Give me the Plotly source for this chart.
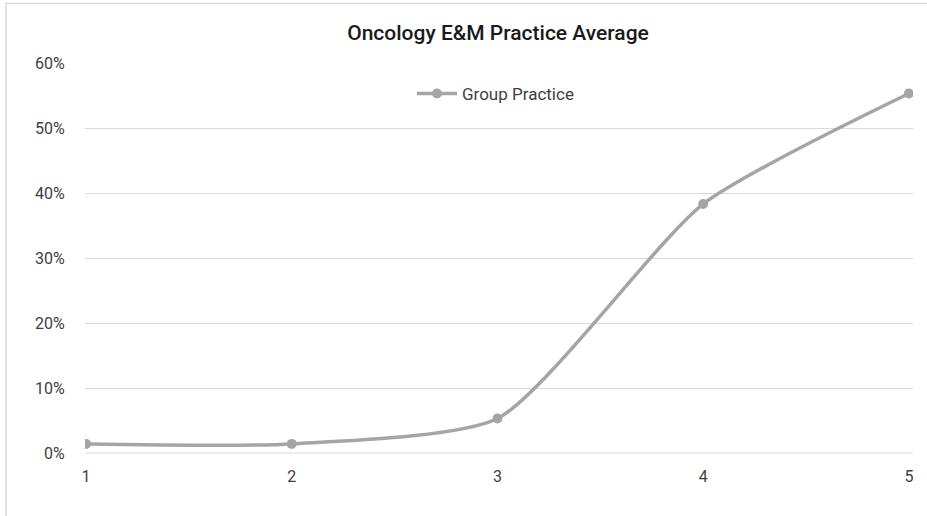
import plotly.graph_objects as go

categories = [1, 2, 3, 4, 5]
group_practice = [0.014, 0.014, 0.053, 0.383, 0.553]
y_ticks = [0, 0.1, 0.2, 0.3, 0.4, 0.5, 0.6]
y_tick_labels = ["0%", "10%", "20%", "30%", "40%", "50%", "60%"]

FONT = "Roboto, Liberation Sans, sans-serif"

fig = go.Figure()
fig.add_trace(go.Scatter(
    x=categories, y=group_practice, name="Group Practice",
    mode="lines+markers",
    line=dict(color="#A5A5A5", width=3.5, shape="spline", smoothing=0.6),
    marker=dict(color="#A5A5A5", size=10),
))

W, H = 927, 516
l, r, t, b = 85, 14, 63, 63
pw, ph = W - l - r, H - t - b

fig.update_layout(
    width=W, height=H,
    margin=dict(l=l, r=r, t=t, b=b, autoexpand=False),
    paper_bgcolor="white", plot_bgcolor="white",
    font=dict(family=FONT, color="#404040", size=16),
    title=dict(text="Oncology E&M Practice Average", x=(498 - l) / pw, xref="paper",
               xanchor="center", y=1 - 33 / H, yanchor="middle",
               font=dict(family=FONT, size=21, color="#1a1a1a", weight=500)),
    showlegend=True,
    legend=dict(x=(412 - l) / pw, xanchor="left", y=(453 - 94) / ph, yanchor="middle",
                orientation="h", bgcolor="rgba(0,0,0,0)", itemwidth=40,
                font=dict(family=FONT, size=17, color="#404040")),
    xaxis=dict(range=[0.995, 5.02], tickvals=categories,
               ticktext=[str(c) for c in categories], automargin=False,
               showgrid=False, zeroline=False, showline=False,
               ticks="outside", ticklen=9, tickcolor="rgba(0,0,0,0)"),
    yaxis=dict(range=[0, 0.6], tickvals=y_ticks, ticktext=y_tick_labels,
               automargin=False,
               showgrid=True, gridcolor="#D9D9D9", gridwidth=1,
               zeroline=False, showline=False,
               ticks="outside", ticklen=16, tickcolor="rgba(0,0,0,0)"),
    shapes=[dict(type="line", xref="paper", yref="paper", x0=0, x1=1, y0=0, y1=0,
                 line=dict(color="#D9D9D9", width=1), layer="below"),
            dict(type="rect", xref="paper", yref="paper",
                 x0=(6 - l) / pw, x1=1.2, y0=-0.3, y1=(H - b - 3.5) / ph,
                 line=dict(color="#D9D9D9", width=1.5), fillcolor="rgba(0,0,0,0)")],
)

fig.write_html("out.html", config={"displayModeBar": False},
               post_script="document.body.style.margin='0';document.body.style.padding='0';")
